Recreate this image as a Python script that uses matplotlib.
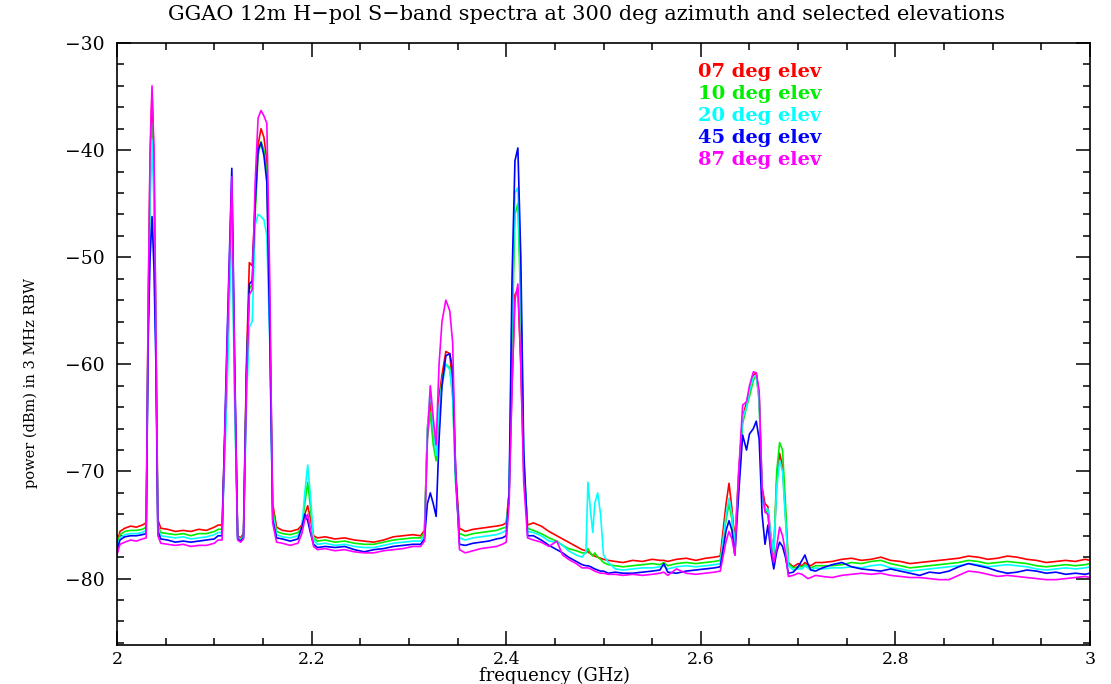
import numpy as np
import matplotlib
matplotlib.use('Agg')
import matplotlib.pyplot as plt
from matplotlib.ticker import MultipleLocator

# --- frequency grid (GHz), grouped by spectral region ---
freq = [
    2.000, 2.003, 2.008, 2.014, 2.020, 2.026, 2.030, 2.032, 2.034, 2.036, 2.038, 2.040, 2.042, 2.045,
    2.052, 2.060, 2.068, 2.076, 2.084, 2.092, 2.100, 2.104,
    2.108, 2.113, 2.118, 2.121, 2.124, 2.127, 2.130, 2.133, 2.136, 2.139, 2.142, 2.145, 2.148, 2.151, 2.154, 2.157, 2.160, 2.164,
    2.170, 2.178, 2.186, 2.190, 2.193, 2.196, 2.199, 2.202, 2.206,
    2.214, 2.224, 2.234, 2.244, 2.254, 2.264, 2.274, 2.284, 2.294, 2.304, 2.312,
    2.316, 2.319, 2.322, 2.325, 2.328, 2.331, 2.334, 2.338, 2.342, 2.345, 2.348, 2.352,
    2.358, 2.366, 2.374, 2.382, 2.390, 2.396, 2.400,
    2.403, 2.406, 2.409, 2.412, 2.415, 2.418, 2.422,
    2.428, 2.436, 2.444, 2.452, 2.458, 2.464, 2.472, 2.478,
    2.482, 2.484, 2.487, 2.489, 2.491, 2.494, 2.497, 2.500, 2.505,
    2.512, 2.520, 2.530, 2.540, 2.550, 2.558, 2.562, 2.566, 2.575, 2.585, 2.595, 2.605, 2.614,
    2.620, 2.626, 2.629, 2.632, 2.635, 2.639, 2.643, 2.647, 2.650, 2.654, 2.657, 2.660, 2.663, 2.666, 2.669,
    2.672, 2.675, 2.678, 2.681, 2.684, 2.687, 2.690, 2.695, 2.700, 2.704, 2.707, 2.710, 2.713, 2.718,
    2.725, 2.735, 2.745, 2.755, 2.765, 2.775, 2.785, 2.795, 2.805, 2.815, 2.825, 2.835, 2.845, 2.855, 2.865,
    2.875, 2.885, 2.895, 2.905, 2.915, 2.925, 2.935, 2.945, 2.955, 2.965, 2.975, 2.985, 2.995, 3.000,
]

# --- power (dBm) per elevation ---
elev07 = [
    -76.8, -75.6, -75.3, -75.1, -75.2, -75.0, -74.8, -55.0, -41.0, -34.5, -41.0, -57.0, -74.5, -75.3,
    -75.4, -75.6, -75.5, -75.6, -75.4, -75.5, -75.2, -75.0,
    -75.0, -60.0, -44.0, -62.0, -76.0, -76.2, -75.8, -60.0, -50.5, -50.8, -45.0, -39.5, -38.0, -38.8, -41.0, -55.0, -73.0, -75.2,
    -75.5, -75.6, -75.4, -75.0, -74.0, -73.2, -74.5, -76.0, -76.2,
    -76.1, -76.3, -76.2, -76.4, -76.5, -76.6, -76.4, -76.1, -76.0, -75.9, -76.0,
    -75.5, -66.0, -63.5, -66.5, -68.0, -63.0, -61.0, -58.8, -59.0, -62.0, -70.0, -75.3,
    -75.6, -75.4, -75.3, -75.2, -75.1, -75.0, -74.8,
    -72.0, -62.0, -53.5, -53.0, -60.0, -70.0, -75.0,
    -74.8, -75.1, -75.6, -76.0, -76.3, -76.6, -77.0, -77.3,
    -77.4, -77.5, -77.7, -77.8, -77.9, -78.0, -78.1, -78.2, -78.3,
    -78.4, -78.5, -78.3, -78.4, -78.2, -78.3, -78.3, -78.4, -78.2, -78.1, -78.3, -78.1, -78.0,
    -77.9, -73.0, -71.1, -73.5, -76.5, -70.0, -65.0, -63.5, -62.5, -61.0, -60.8, -63.0, -71.5, -73.0, -73.3,
    -76.0, -77.5, -71.0, -68.3, -69.5, -74.0, -78.5, -78.9, -78.6, -78.8, -78.5, -78.7, -78.8, -78.5,
    -78.5, -78.4, -78.2, -78.1, -78.3, -78.2, -78.0, -78.3, -78.4, -78.6, -78.5, -78.4, -78.3, -78.2, -78.1,
    -77.9, -78.0, -78.2, -78.1, -77.9, -78.0, -78.2, -78.3, -78.5, -78.4, -78.3, -78.4, -78.2, -78.3,
]
elev10 = [
    -77.0, -75.9, -75.6, -75.5, -75.5, -75.4, -75.2, -56.0, -43.0, -37.5, -43.0, -58.0, -75.0, -75.7,
    -75.8, -75.9, -75.8, -76.0, -75.8, -75.8, -75.6, -75.4,
    -75.4, -61.0, -44.5, -63.0, -76.1, -76.3, -76.0, -61.0, -53.0, -52.5, -46.0, -40.5, -39.2, -40.0, -42.0, -56.0, -73.5, -75.6,
    -75.8, -75.9, -75.7, -75.2, -73.0, -71.0, -73.5, -76.2, -76.5,
    -76.4, -76.6, -76.5, -76.7, -76.8, -76.8, -76.6, -76.4, -76.3, -76.2, -76.2,
    -75.7, -67.0, -64.5, -67.5, -69.0, -64.0, -61.5, -60.0, -60.3, -63.0, -71.0, -75.8,
    -76.0, -75.8, -75.7, -75.6, -75.5, -75.3, -75.2,
    -72.0, -58.0, -46.0, -45.0, -55.0, -69.0, -75.3,
    -75.5, -75.8, -76.2, -76.5, -76.9, -77.2, -77.4, -77.6,
    -77.6, -77.2, -77.7, -77.9, -77.6, -78.0, -78.2, -78.5, -78.7,
    -78.8, -78.9, -78.8, -78.7, -78.6, -78.7, -78.5, -78.8, -78.6, -78.5, -78.6, -78.5, -78.4,
    -78.3, -74.5, -73.0, -74.5, -77.0, -71.0, -65.5, -64.0, -63.0, -61.5, -61.0, -63.5, -72.0, -73.5, -74.0,
    -76.5, -77.8, -70.0, -67.3, -68.0, -73.0, -78.6, -79.0, -78.9, -78.9, -78.7, -78.9, -79.0, -78.8,
    -78.8, -78.8, -78.7, -78.5, -78.6, -78.4, -78.3, -78.6, -78.8, -79.0, -78.9, -78.8, -78.7, -78.6, -78.5,
    -78.3, -78.4, -78.6, -78.5, -78.4, -78.5, -78.6, -78.8, -78.9, -78.8, -78.7, -78.8, -78.7, -78.6,
]
elev20 = [
    -77.2, -76.2, -75.9, -75.8, -75.8, -75.7, -75.5, -57.0, -45.0, -39.0, -45.0, -59.0, -75.3, -76.0,
    -76.1, -76.2, -76.1, -76.3, -76.2, -76.1, -75.9, -75.7,
    -75.7, -63.0, -46.5, -64.0, -76.2, -76.4, -76.1, -64.0, -56.5, -56.0, -47.0, -46.0, -46.2, -46.5, -48.0, -58.0, -74.0, -75.9,
    -76.1, -76.2, -76.0, -75.3, -72.0, -69.4, -72.5, -76.4, -76.8,
    -76.7, -76.9, -76.8, -77.0, -77.1, -77.1, -76.9, -76.7, -76.6, -76.5, -76.5,
    -76.0, -66.0, -62.2, -66.0, -68.5, -64.0, -62.0, -60.0, -60.5, -63.0, -71.0, -76.2,
    -76.4, -76.2, -76.1, -76.0, -75.9, -75.7, -75.5,
    -72.0, -55.0, -44.0, -43.5, -53.0, -69.0, -75.6,
    -75.7, -76.0, -76.5, -76.6, -76.9, -77.4, -77.8, -78.0,
    -77.5, -71.0, -74.0, -75.7, -73.0, -72.0, -74.0, -77.8, -78.5,
    -79.1, -79.2, -79.1, -79.0, -79.0, -78.9, -78.8, -79.1, -78.9, -78.8, -78.9, -78.8, -78.7,
    -78.6, -74.0, -72.5, -74.0, -77.0, -70.5, -65.0, -64.0, -62.5, -61.2, -61.0, -63.2, -72.5, -73.5, -73.5,
    -76.0, -77.5, -71.5, -69.0, -70.0, -74.5, -78.8, -79.2, -79.1, -79.1, -78.8, -79.0, -79.2, -79.0,
    -79.1, -79.0, -79.0, -78.9, -79.0, -78.8, -78.7, -79.0, -79.1, -79.3, -79.2, -79.1, -79.0, -78.9, -78.8,
    -78.6, -78.7, -78.9, -78.8, -78.7, -78.8, -78.9, -79.1, -79.2, -79.1, -79.0, -79.1, -79.0, -78.9,
]
elev45 = [
    -77.4, -76.4, -76.1, -76.0, -76.0, -75.9, -75.8, -58.0, -50.0, -46.2, -51.0, -60.0, -75.6, -76.3,
    -76.4, -76.6, -76.5, -76.6, -76.5, -76.4, -76.3, -76.0,
    -76.0, -58.0, -41.7, -60.0, -76.3, -76.5, -76.2, -61.0, -52.5, -52.2, -45.0, -40.0, -39.3, -40.5, -43.0, -57.0, -74.5, -76.2,
    -76.3, -76.5, -76.3, -75.2, -74.0, -74.6, -75.8, -76.8, -77.1,
    -77.0, -77.1, -77.0, -77.3, -77.5, -77.3, -77.2, -77.0, -76.9, -76.8, -76.8,
    -76.3, -73.0, -72.0, -73.0, -74.2, -67.0, -62.0, -59.2, -59.0, -60.5, -70.0, -76.8,
    -76.9, -76.7, -76.6, -76.5, -76.3, -76.2, -76.0,
    -72.0, -52.0, -41.0, -39.8, -50.0, -68.0, -76.0,
    -76.0, -76.4, -76.9, -77.3, -77.6, -78.0, -78.4, -78.7,
    -78.8, -78.8, -78.9, -79.0, -79.1, -79.2, -79.3, -79.3, -79.5,
    -79.4, -79.5, -79.5, -79.4, -79.3, -79.2, -78.6, -79.4, -79.5, -79.3, -79.2, -79.1, -79.0,
    -78.9, -75.5, -74.6, -75.5, -77.8, -72.0, -66.6, -68.0, -66.5, -66.0, -65.3, -67.0, -74.0, -76.8, -75.0,
    -77.5, -79.1, -77.5, -76.6, -77.0, -78.0, -79.5, -79.4, -78.9, -78.3, -77.8, -78.6, -79.2, -79.3,
    -79.0, -78.7, -78.5, -78.9, -79.1, -79.2, -79.3, -79.1, -79.3, -79.5, -79.7, -79.4, -79.5, -79.3, -78.9,
    -78.6, -78.8, -79.0, -79.3, -79.5, -79.4, -79.2, -79.3, -79.5, -79.4, -79.6, -79.5, -79.6, -79.5,
]
elev87 = [
    -77.8, -76.8, -76.6, -76.4, -76.5, -76.3, -76.2, -55.0, -40.0, -34.0, -40.0, -57.0, -76.0, -76.7,
    -76.8, -76.9, -76.8, -77.0, -76.9, -76.9, -76.7, -76.4,
    -76.4, -59.0, -42.5, -61.0, -76.4, -76.6, -76.3, -62.0, -53.5, -53.0, -43.0, -37.0, -36.3, -36.8, -37.5, -52.0, -74.8, -76.6,
    -76.7, -76.9, -76.7, -75.8, -74.5, -74.0, -75.5, -77.0, -77.3,
    -77.2, -77.4, -77.3, -77.5, -77.6, -77.6, -77.4, -77.3, -77.2, -77.0, -77.0,
    -76.5, -67.0, -62.0, -65.0, -67.5, -60.0, -56.0, -54.0, -55.0, -58.0, -70.0, -77.3,
    -77.6, -77.4, -77.2, -77.1, -77.0, -76.8, -76.6,
    -73.0, -62.0, -54.0, -52.5, -60.0, -71.0, -76.2,
    -76.4, -76.6, -77.0, -76.5, -77.8, -78.2, -78.6, -79.0,
    -79.0, -79.0, -79.1, -79.2, -79.3, -79.4, -79.5, -79.5, -79.6,
    -79.6, -79.7, -79.6, -79.7, -79.6, -79.5, -79.4, -79.7, -79.1, -79.5, -79.6, -79.5, -79.4,
    -79.3, -76.5, -75.6, -76.3, -77.8, -70.0, -63.8, -63.5, -62.0, -60.7, -60.8, -62.5, -71.5, -73.8, -74.0,
    -77.0, -78.5, -77.0, -75.2, -76.0, -77.5, -79.8, -79.7, -79.5, -79.6, -79.8, -80.0, -79.9, -79.7,
    -79.8, -79.9, -79.7, -79.6, -79.5, -79.6, -79.5, -79.7, -79.8, -79.9, -79.9, -80.0, -80.1, -80.1, -79.7,
    -79.3, -79.4, -79.6, -79.8, -79.7, -79.8, -79.9, -80.0, -80.1, -80.1, -80.0, -79.9, -79.8, -79.9,
]

labels = ['07 deg elev', '10 deg elev', '20 deg elev', '45 deg elev', '87 deg elev']
colors = ['#ff0000', '#00ee00', '#00ffff', '#0000ff', '#ff00ff']
series = [elev07, elev10, elev20, elev45, elev87]

for s in series:
    assert len(s) == len(freq), (len(s), len(freq))

plt.rcParams['font.family'] = 'DejaVu Serif'

fig = plt.figure(figsize=(11.11, 6.84), dpi=100)
ax = fig.add_axes([117/1111, 39/684, 973/1111, 602/684])

for vals, c in zip(series, colors):
    ax.plot(freq, vals, color=c, lw=1.2)

ax.set_xlim(2, 3)
ax.set_ylim(-86.2, -30)
ax.xaxis.set_major_locator(MultipleLocator(0.2))
ax.xaxis.set_minor_locator(MultipleLocator(0.05))
ax.yaxis.set_major_locator(MultipleLocator(10))
ax.yaxis.set_minor_locator(MultipleLocator(2))
ax.xaxis.set_major_formatter(plt.FuncFormatter(lambda v, p: f'{v:g}'))
ax.tick_params(which='both', direction='in', top=True, right=True, width=1.1)
ax.tick_params(which='major', length=10)
ax.tick_params(which='minor', length=5)
ax.tick_params(axis='x', which='major', labelsize=12.5, pad=4)
ax.tick_params(axis='y', which='major', labelsize=13.5, pad=9)
for sp in ax.spines.values():
    sp.set_linewidth(1.2)

ax.set_xlabel('frequency (GHz)', fontsize=13)
ax.set_ylabel('power (dBm) in 3 MHz RBW', fontsize=10.5)
ax.xaxis.set_label_coords(0.45, -0.036)
ax.yaxis.set_label_coords(-0.081, 0.435)

for i, (lab, c) in enumerate(zip(labels, colors)):
    ax.text(0.597, 0.952 - i * 0.0365, lab, color=c, fontsize=14,
            fontweight='bold', transform=ax.transAxes, va='center', ha='left')

fig.text(0.528, 1 - 15/684, 'GGAO 12m H\u2212pol S\u2212band spectra at 300 deg azimuth and selected elevations',
         ha='center', va='center', fontsize=15)

fig.savefig('out.png', dpi=100)
